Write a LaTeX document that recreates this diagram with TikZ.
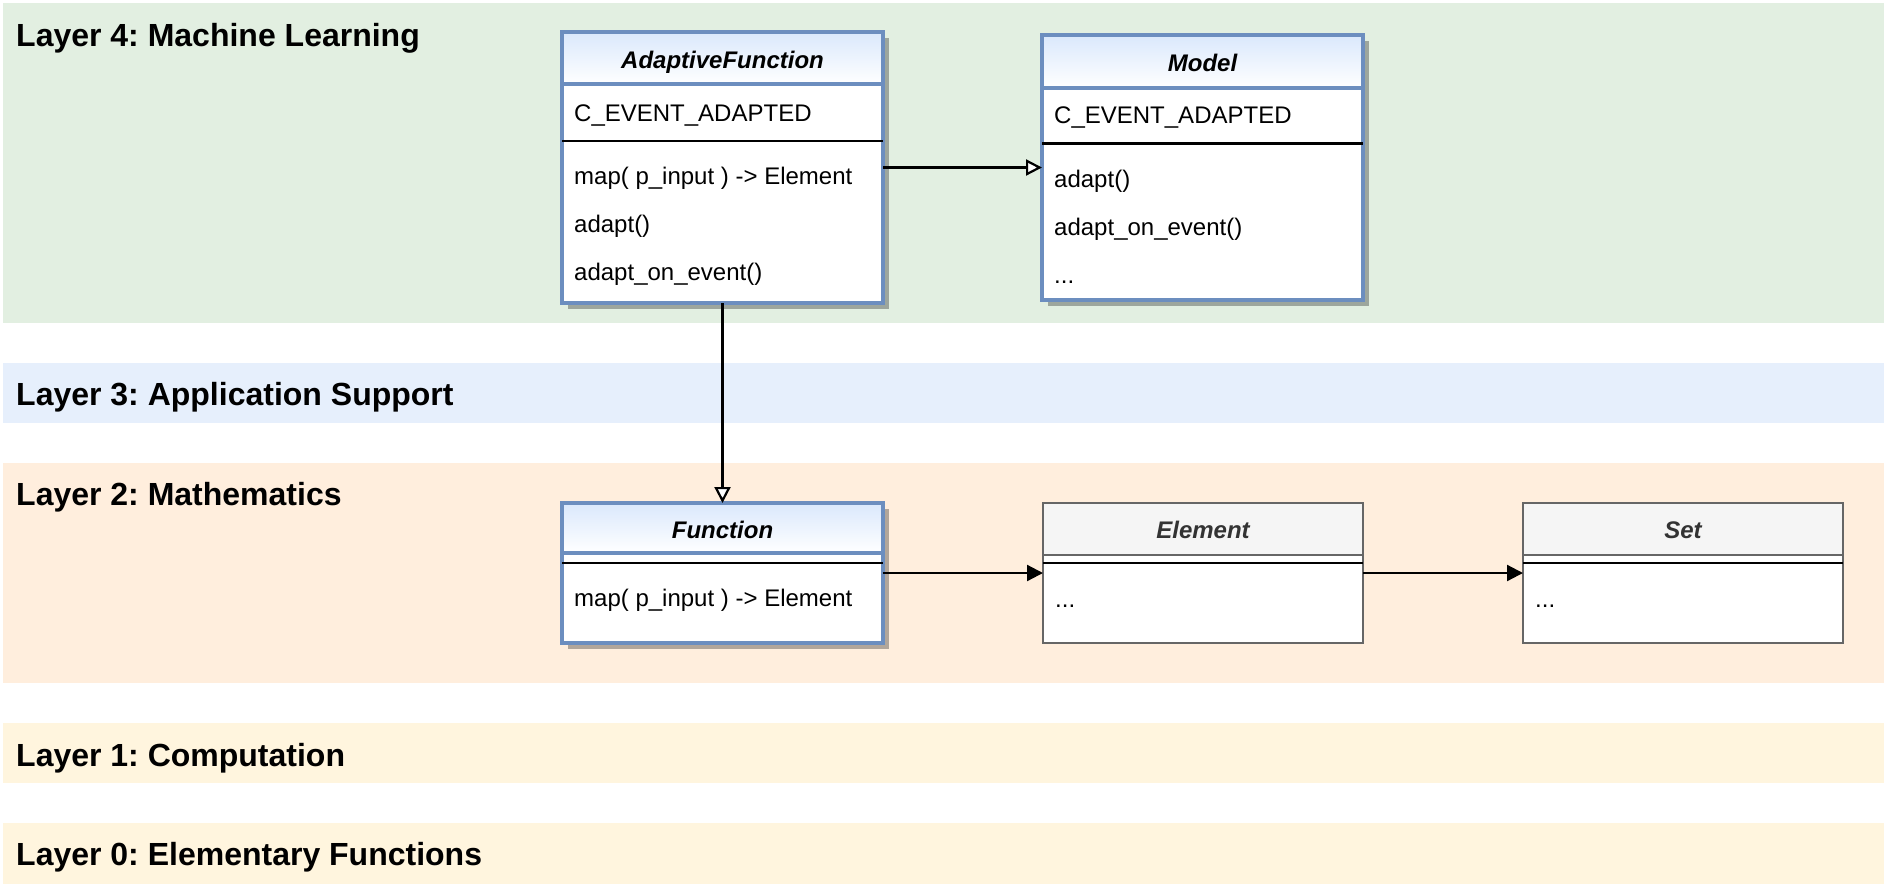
\documentclass[tikz,border=0pt]{standalone}
\usepackage{fontspec}
\setmainfont{Liberation Sans}
\usetikzlibrary{arrows.meta,shadows}
\frenchspacing
\definecolor{bandgreen}{RGB}{226,239,225}
\definecolor{bandblue}{RGB}{230,239,252}
\definecolor{bandorange}{RGB}{255,238,221}
\definecolor{bandyellow}{RGB}{255,245,222}
\definecolor{ublue}{HTML}{6C8EBF}
\definecolor{hblue}{HTML}{DAE8FC}
\definecolor{ggray}{HTML}{666666}
\definecolor{gfill}{HTML}{F5F5F5}
\definecolor{gtext}{HTML}{333333}
\begin{document}
\begin{tikzpicture}[x=1pt,y=-1pt,
  band/.style={fill=#1, draw=none},
  layerlabel/.style={anchor=base west, inner sep=0pt, font=\bfseries\fontsize{32}{38}\selectfont},
  bodytxt/.style={anchor=base west, inner sep=0pt, font=\fontsize{24}{28}\selectfont},
  titletxt/.style={anchor=base, inner sep=0pt, font=\bfseries\itshape\fontsize{24}{28}\selectfont},
  clsbody/.style={draw=ublue, line width=3.6pt, fill=white, anchor=north west, inner sep=0pt, outer sep=0pt,
    minimum width=321pt, drop shadow={shadow xshift=6pt, shadow yshift=-6pt, opacity=0.3, fill=black}},
  clshead/.style={draw=ublue, line width=3.6pt, top color=hblue, bottom color=white, anchor=north west,
    inner sep=0pt, outer sep=0pt, minimum width=321pt},
  gbody/.style={draw=ggray, line width=1.8pt, fill=white, anchor=north west, inner sep=0pt, outer sep=0pt, minimum width=320pt},
  ghead/.style={draw=ggray, line width=1.8pt, fill=gfill, anchor=north west, inner sep=0pt, outer sep=0pt, minimum width=320pt},
  sepline/.style={draw=black, line width=2.2pt},
  conn/.style={draw=black, line width=2.2pt},
  gen/.style={conn, -{Triangle[open, length=16pt, width=16pt, fill=white]}},
  assoc/.style={conn, -{Triangle[length=16pt, width=16pt]}}
]
\useasboundingbox (0,0) rectangle (1884,884);
% layer bands
\fill[band=bandgreen] (3,3) rectangle (1884,323);
\fill[band=bandblue] (3,363) rectangle (1884,423);
\fill[band=bandorange] (3,463) rectangle (1884,683);
\fill[band=bandyellow] (3,723) rectangle (1884,783);
\fill[band=bandyellow] (3,823) rectangle (1884,884);
\node[layerlabel] (l4) at (16,46) {Layer 4: Machine Learning};
\node[layerlabel] (l3) at (16,405) {Layer 3: Application Support};
\node[layerlabel] (l2) at (16,505) {Layer 2: Mathematics};
\node[layerlabel] (l1) at (16,766) {Layer 1: Computation};
\node[layerlabel] (l0) at (16,865) {Layer 0: Elementary Functions};

% AdaptiveFunction
\node[clsbody, minimum height=271pt] (af) at (562,32) {};
\node[clshead, minimum height=52pt] (afh) at (562,32) {};
\draw[sepline] (562,141) -- (883,141);
\node[titletxt] (aft) at (722.5,68) {AdaptiveFunction};
\node[bodytxt] (afa) at (574,121) {C\_EVENT\_ADAPTED};
\node[bodytxt] (afm1) at (574,184.5) {map( p\_input ) -> Element};
\node[bodytxt] (afm2) at (574,232.5) {adapt()};
\node[bodytxt] (afm3) at (574,280.5) {adapt\_on\_event()};

% Model
\node[clsbody, minimum height=265pt] (mo) at (1042,35) {};
\node[clshead, minimum height=53pt] (moh) at (1042,35) {};
\draw[sepline] (1042,143.5) -- (1363,143.5);
\node[titletxt] (mot) at (1202.5,71.5) {Model};
\node[bodytxt] (moa) at (1054,123) {C\_EVENT\_ADAPTED};
\node[bodytxt] (mom1) at (1054,187) {adapt()};
\node[bodytxt] (mom2) at (1054,235) {adapt\_on\_event()};
\node[bodytxt] (mom3) at (1054,283) {...};

% Function
\node[clsbody, minimum height=140pt] (fn) at (562,503) {};
\node[clshead, minimum height=50pt] (fnh) at (562,503) {};
\draw[sepline] (562,563) -- (883,563);
\node[titletxt] (fnt) at (722.5,538.5) {Function};
\node[bodytxt] (fnm1) at (574,606) {map( p\_input ) -> Element};

% Element
\node[gbody, minimum height=140pt] (el) at (1043,503) {};
\node[ghead, minimum height=52pt] (elh) at (1043,503) {};
\draw[sepline] (1043,563) -- (1363,563);
\node[titletxt, text=gtext] (elt) at (1203,538.5) {Element};
\node[bodytxt] (elm) at (1055,607) {...};

% Set
\node[gbody, minimum height=140pt] (st) at (1523,503) {};
\node[ghead, minimum height=52pt] (sth) at (1523,503) {};
\draw[sepline] (1523,563) -- (1843,563);
\node[titletxt, text=gtext] (stt) at (1683,538.5) {Set};
\node[bodytxt] (stm) at (1535,607) {...};

% connectors
\draw[gen] (af.east) -- (mo.west |- af.east);
\draw[gen] (af.south) -- (fn.north);
\draw[assoc] (fn.east) -- (el.west);
\draw[assoc] (el.east) -- (st.west);
\end{tikzpicture}
\end{document}
